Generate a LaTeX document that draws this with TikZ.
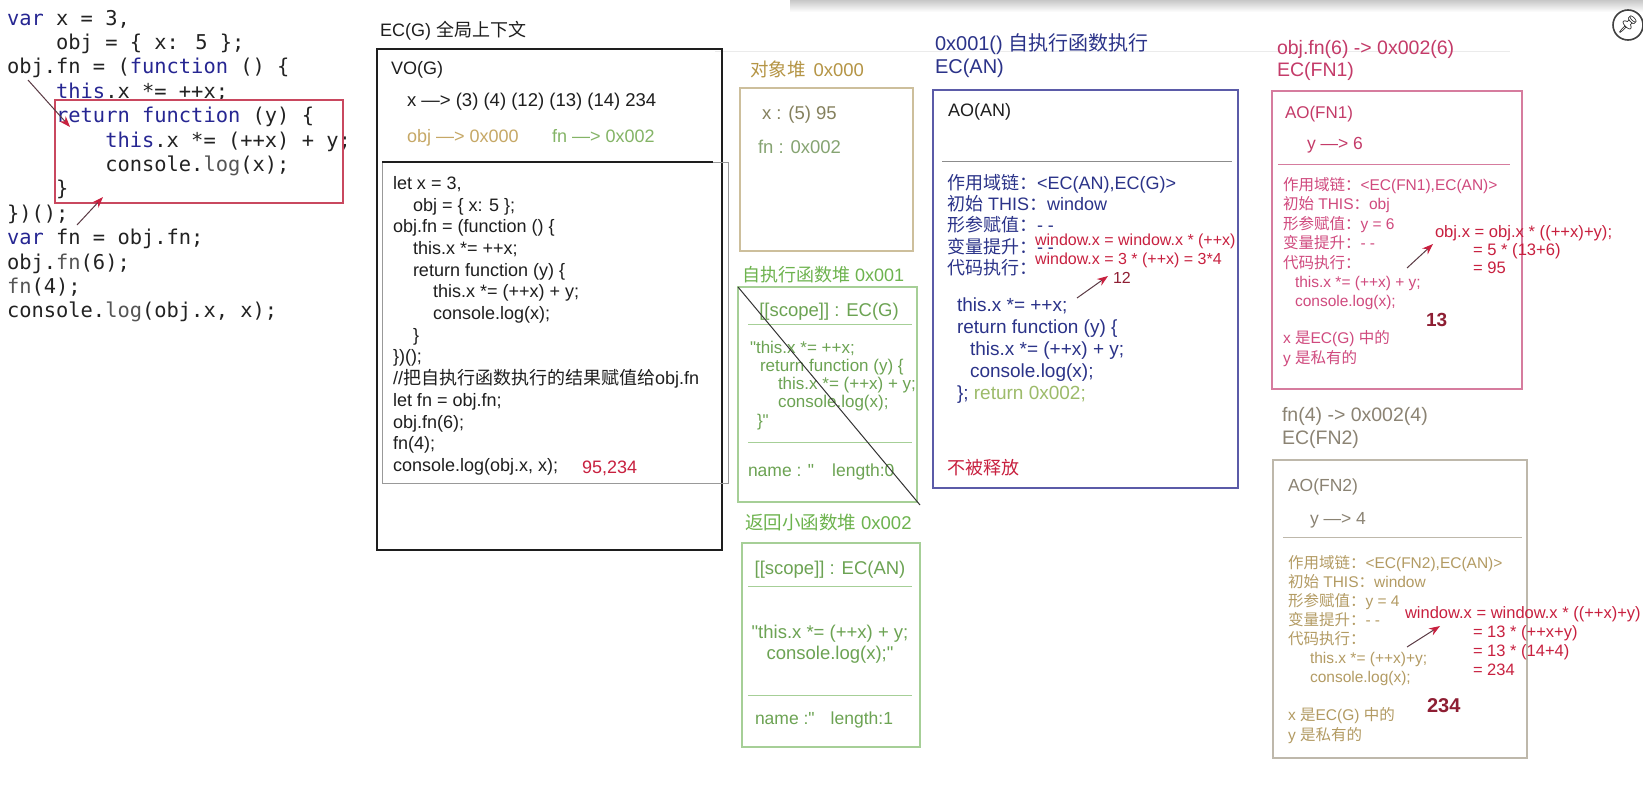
\documentclass[tikz,border=0pt]{standalone}
\usepackage{fontspec}
\setmainfont{Liberation Sans}
\newfontfamily\qf{Liberation Sans}[Ligatures=TeXOff]
\newfontfamily\cjk{Noto Sans CJK SC}
\newfontfamily\monof{DejaVu Sans Mono}
\newfontfamily\emojifont{Noto Emoji}
\usetikzlibrary{arrows.meta}
\newcommand\myfs[2]{\fontsize{#1}{#2}\selectfont}
\newcommand\mystrut{\rule{0pt}{.9em}}
\newcommand\dq{{\qf"}}
\definecolor{ccode}{HTML}{222222}
\definecolor{ckw}{HTML}{262692}
\definecolor{cgreyc}{HTML}{555555}
\definecolor{cboxred}{HTML}{C9485F}
\definecolor{carrow}{HTML}{5A3A44}
\definecolor{cred}{HTML}{C8203F}
\definecolor{cdark}{HTML}{1E1E1E}
\definecolor{ctan}{HTML}{C6A866}
\definecolor{cgrn}{HTML}{84B466}
\definecolor{ctanh}{HTML}{B59545}
\definecolor{ctanbox}{HTML}{CDBF9C}
\definecolor{colive}{HTML}{85815E}
\definecolor{cgrnf}{HTML}{86A472}
\definecolor{cgrnh}{HTML}{6DB34E}
\definecolor{cgrnbox}{HTML}{A6CF97}
\definecolor{cgrnt}{HTML}{6CA353}
\definecolor{cnavy}{HTML}{2B3389}
\definecolor{canbox}{HTML}{5B5BA8}
\definecolor{cgrntwo}{HTML}{9DBB6A}
\definecolor{cpinkh}{HTML}{C43B69}
\definecolor{cpinkbox}{HTML}{D67C9E}
\definecolor{cpink}{HTML}{D04A7E}
\definecolor{cdred}{HTML}{8E1E33}
\definecolor{cfnh}{HTML}{8B8373}
\definecolor{cfnbox}{HTML}{BEB8AB}
\definecolor{cfnt}{HTML}{B39B63}
\begin{document}
\begin{tikzpicture}[x=1pt,y=-1pt,
  tx/.style={inner sep=0pt,outer sep=0pt,anchor=north west,align=left},
  tc/.style={inner sep=0pt,outer sep=0pt,anchor=north,align=center},
  boxframe/.style={line width=1.1pt},
  divline/.style={line width=0.9pt},
  ptr/.style={line width=1pt,draw=carrow,-{Stealth[length=11pt,width=8pt,color=cred]}}]
\useasboundingbox (0,0) rectangle (1643,800);
\fill[white] (0,0) rectangle (1643,800);
% screenshot edge
\shade[top color=black!22,bottom color=white] (790,0) rectangle (1643,12);
\draw[black!8,line width=1pt] (715,52) -- (1510,52);

% ---------------- left code ----------------
\node[tx,font=\monof\myfs{20.4}{24.4},text=ccode] (lcode) at (7,6.8) {\mystrut\textcolor{ckw}{var} x = 3,\\
\phantom{0000}obj = \{ x: 5 \};\\
obj.fn = (\textcolor{ckw}{function} () \{\\
\phantom{0000}\textcolor{ckw}{this}.x *= ++x;\\
\phantom{0000}\textcolor{ckw}{return} \textcolor{ckw}{function} (y) \{\\
\phantom{00000000}\textcolor{ckw}{this}.x *= (++x) + y;\\
\phantom{00000000}console.\textcolor{cgreyc}{log}(x);\\
\phantom{0000}\}\\
\})();\\
\textcolor{ckw}{var} fn = obj.fn;\\
obj.\textcolor{cgreyc}{fn}(6);\\
\textcolor{cgreyc}{fn}(4);\\
console.\textcolor{cgreyc}{log}(obj.x, x);};
\draw[cboxred,line width=1.2pt] (55,100) rectangle (343,203);
\coordinate (a1s) at (28,80);
\coordinate (a1e) at (70,127);
\coordinate (a2s) at (77,225);
\coordinate (a2e) at (103,197);
\draw[ptr] (a1s) -- (a1e);
\draw[ptr] (a2s) -- (a2e);

% ---------------- EC(G) ----------------
\node[tx,font=\myfs{18}{21},text=cdark] (ecgT) at (380,20.1) {\mystrut EC(G) {\cjk 全局上下文}};
\draw[boxframe,draw=cdark] (377,49) rectangle (722,550);
\node[tx,font=\myfs{18}{21},text=cdark] (vog) at (391,58.1) {\mystrut VO(G)};
\node[tx,font=\myfs{18.5}{21},text=cdark] (vox) at (407,89.8) {\mystrut x —> (3) (4) (12) (13) (14) 234};
\node[tx,font=\myfs{18}{21},text=ctan] (voobj) at (407,126.1) {\mystrut obj —> 0x000};
\node[tx,font=\myfs{18}{21},text=cgrn] (vofn) at (552,126.1) {\mystrut fn —> 0x002};
\draw[black!40,line width=0.8pt] (382,162) rectangle (728,483);
\draw[cdark,line width=2pt] (382,162) -- (713,162);
\node[tx,font=\myfs{18}{21.7},text=cdark] (gcode) at (393,173.1) {\mystrut let x = 3,\\
\hspace*{20pt}obj = \{ x: 5 \};\\
obj.fn = (function () \{\\
\hspace*{20pt}this.x *= ++x;\\
\hspace*{20pt}return function (y) \{\\
\hspace*{40pt}this.x *= (++x) + y;\\
\hspace*{40pt}console.log(x);\\
\hspace*{20pt}\}\\
\})();\\
//{\cjk 把自执行函数执行的结果赋值给}obj.fn\\
let fn = obj.fn;\\
obj.fn(6);\\
fn(4);\\
console.log(obj.x, x);};
\node[tx,font=\myfs{18}{21},text=cred] (res) at (582,457.1) {\mystrut 95,234};

% ---------------- object heap ----------------
\node[tx,font=\myfs{18.5}{21},text=ctanh] (objT) at (750,59.8) {\mystrut{\cjk 对象堆}\hspace{8pt}0x000};
\draw[boxframe,draw=ctanbox] (740,88) rectangle (913,251);
\node[tx,font=\myfs{18.5}{21},text=colive] (objx) at (762,102.8) {\mystrut x : (5) 95};
\node[tx,font=\myfs{18.5}{21},text=cgrnf] (objfn) at (758,136.8) {\mystrut fn : 0x002};

% ---------------- self-executing function heap ----------------
\node[tx,font=\myfs{18}{21},text=cgrnh] (h1T) at (742,265.1) {\mystrut{\cjk 自执行函数堆} 0x001};
\draw[boxframe,draw=cgrnbox] (738,287) rectangle (917,502);
\node[tc,font=\myfs{18.5}{21},text=cgrnt] (h1s) at (829,299.8) {\mystrut[[scope]] : EC(G)};
\draw[divline,draw=cgrnbox] (748,324) -- (912,324);
\node[tx,font=\myfs{17}{18.3},text=cgrnt] (h1c) at (750,337.7) {\mystrut\dq this.x *= ++x;\\
\hspace*{10pt}return function (y) \{\\
\hspace*{28pt}this.x *= (++x) + y;\\
\hspace*{28pt}console.log(x);\\
\hspace*{7pt}\}\dq};
\draw[divline,draw=cgrnbox] (748,442) -- (912,442);
\node[tx,font=\myfs{17.5}{21},text=cgrnt] (h1n) at (748,460.4) {\mystrut name : \dq\hspace{18pt}length:0};
\coordinate (d1) at (738,287);
\coordinate (d2) at (920,505);
\draw[black!80,line width=1pt] (d1) -- (d2);

% ---------------- returned small function heap ----------------
\node[tx,font=\myfs{18.5}{21},text=cgrnh] (h2T) at (745,512.8) {\mystrut{\cjk 返回小函数堆} 0x002};
\draw[boxframe,draw=cgrnbox] (742,543) rectangle (920,747);
\node[tc,font=\myfs{18.5}{21},text=cgrnt] (h2s) at (830,557.8) {\mystrut[[scope]] : EC(AN)};
\draw[divline,draw=cgrnbox] (748,586) -- (912,586);
\node[tc,font=\myfs{18.5}{21},text=cgrnt] (h2c) at (830,621.8) {\mystrut\dq this.x *= (++x) + y;\\ console.log(x);\dq};
\draw[divline,draw=cgrnbox] (748,695) -- (912,695);
\node[tx,font=\myfs{17.5}{21},text=cgrnt] (h2n) at (755,708.4) {\mystrut name :\dq\hspace{16pt}length:1};

% ---------------- EC(AN) ----------------
\node[tx,font=\myfs{20}{23},text=cnavy] (anT) at (935,33) {\mystrut 0x001() {\cjk 自执行函数执行}\\ EC(AN)};
\draw[boxframe,draw=canbox] (933,90) rectangle (1238,488);
\node[tx,font=\myfs{18}{21},text=cdark] (anAO) at (948,100.1) {\mystrut AO(AN)};
\draw[divline,draw=black!45] (942,161) -- (1232,161);
\node[tx,font=\myfs{18}{21.3},text=cnavy] (anInfo) at (947,173.1) {\mystrut{\cjk 作用域链：}<EC(AN),EC(G)>\\
{\cjk 初始} THIS{\cjk ：}window\\
{\cjk 形参赋值：}- -\\
{\cjk 变量提升：}- -\\
{\cjk 代码执行：}};
\node[tx,font=\myfs{16}{19},text=cred] (anRed) at (1035,231.2) {\mystrut window.x = window.x * (++x)\\ window.x = 3 * (++x) = 3*4};
\node[tx,font=\myfs{16}{19},text=cdred] (an12) at (1113,269.2) {\mystrut 12};
\coordinate (anA1) at (1077,298);
\coordinate (anA2) at (1108,276);
\draw[ptr] (anA1) -- (anA2);
\node[tx,font=\myfs{19}{22},text=cnavy] (anCode) at (957,294.5) {\mystrut this.x *= ++x;\\
return function (y) \{\\
\hspace*{13pt}this.x *= (++x) + y;\\
\hspace*{13pt}console.log(x);\\
\}; \textcolor{cgrntwo}{return 0x002;}};
\node[tx,font=\myfs{18}{21},text=cred] (anKeep) at (947,458.1) {\mystrut{\cjk 不被释放}};

% ---------------- EC(FN1) ----------------
\node[tx,font=\myfs{19.5}{22},text=cpinkh] (f1T) at (1277,37.3) {\mystrut obj.fn(6) -> 0x002(6)\\ EC(FN1)};
\draw[boxframe,draw=cpinkbox] (1272,91) rectangle (1522,389);
\node[tx,font=\myfs{17}{21},text=cpinkh] (f1AO) at (1285,102.7) {\mystrut AO(FN1)};
\node[tx,font=\myfs{17.5}{21},text=cpinkh] (f1y) at (1307,133.4) {\mystrut y —> 6};
\draw[divline,draw=cpinkbox] (1278,164) -- (1510,164);
\node[tx,font=\myfs{15.5}{19.4},text=cpink] (f1Info) at (1283,176.5) {\mystrut{\cjk 作用域链：}<EC(FN1),EC(AN)>\\
{\cjk 初始} THIS{\cjk ：}obj\\
{\cjk 形参赋值：}y = 6\\
{\cjk 变量提升：}- -\\
{\cjk 代码执行：}\\
\hspace*{12pt}this.x *= (++x) + y;\\
\hspace*{12pt}console.log(x);};
\node[tx,font=\bfseries\myfs{19}{21},text=cdred] (f1r) at (1426,309.6) {\mystrut 13};
\node[tx,font=\myfs{15.5}{20},text=cpink] (f1Note) at (1283,329.5) {\mystrut x {\cjk 是}EC(G) {\cjk 中的}\\ y {\cjk 是私有的}};
\node[tx,font=\myfs{16.6}{18},text=cred] (f1Red) at (1435,222.9) {\mystrut obj.x = obj.x * ((++x)+y);\\
\hspace*{38pt}= 5 * (13+6)\\
\hspace*{38pt}= 95};
\coordinate (f1A1) at (1407,268);
\coordinate (f1A2) at (1433,244);
\draw[ptr] (f1A1) -- (f1A2);

% ---------------- EC(FN2) ----------------
\node[tx,font=\myfs{19.5}{23},text=cfnh] (f2T) at (1282,404.3) {\mystrut fn(4) -> 0x002(4)\\ EC(FN2)};
\draw[boxframe,draw=cfnbox] (1273,460) rectangle (1527,758);
\node[tx,font=\myfs{17.5}{21},text=cfnh] (f2AO) at (1288,475.4) {\mystrut AO(FN2)};
\node[tx,font=\myfs{17.5}{21},text=cfnh] (f2y) at (1310,508.4) {\mystrut y —> 4};
\draw[divline,draw=cfnbox] (1283,537) -- (1522,537);
\node[tx,font=\myfs{15.5}{19},text=cfnt] (f2Info) at (1288,554.5) {\mystrut{\cjk 作用域链：}<EC(FN2),EC(AN)>\\
{\cjk 初始} THIS{\cjk ：}window\\
{\cjk 形参赋值：}y = 4\\
{\cjk 变量提升：}- -\\
{\cjk 代码执行：}\\
\hspace*{22pt}this.x *= (++x)+y;\\
\hspace*{22pt}console.log(x);};
\node[tx,font=\bfseries\myfs{20}{21},text=cdred] (f2r) at (1427,694) {\mystrut 234};
\node[tx,font=\myfs{15.5}{20},text=cfnt] (f2Note) at (1288,706.5) {\mystrut x {\cjk 是}EC(G) {\cjk 中的}\\ y {\cjk 是私有的}};
\node[tx,font=\myfs{16.5}{19},text=cred] (f2Red) at (1405,603.9) {\mystrut window.x = window.x * ((++x)+y)\\
\hspace*{68pt}= 13 * (++x+y)\\
\hspace*{68pt}= 13 * (14+4)\\
\hspace*{68pt}= 234};
\coordinate (f2A1) at (1407,647);
\coordinate (f2A2) at (1440,626);
\draw[ptr] (f2A1) -- (f2A2);

% ---------------- pin icon ----------------
\draw[black!75,line width=1.6pt,fill=white] (1628,25) circle (15);
\node[inner sep=0pt,font=\emojifont\myfs{17}{18}] (pin) at (1628,25) {📌};
\end{tikzpicture}
\end{document}
